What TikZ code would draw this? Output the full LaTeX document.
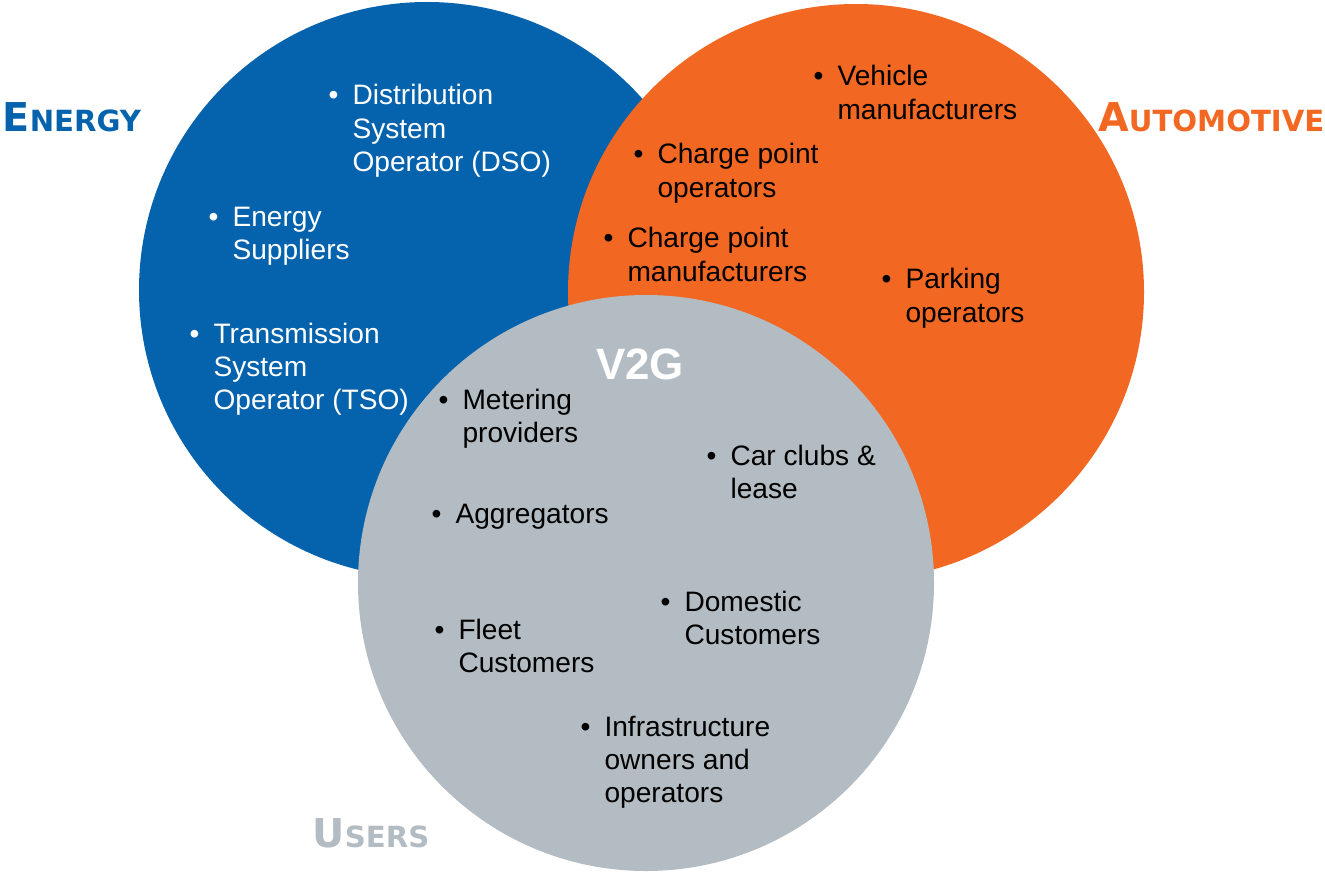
\documentclass[tikz,border=0pt]{standalone}
\usepackage{fontspec}
\setmainfont{Liberation Sans}
\newfontfamily\headfont{DejaVu Sans}
\usepackage{xcolor}
\usepackage{tikz}

\definecolor{energyblue}{RGB}{5,98,172}
\definecolor{autoorange}{RGB}{242,103,34}
\definecolor{usergray}{RGB}{179,188,194}

% bullet followed by a left aligned block of lines
\newcommand{\blist}[1]{\textbullet\hspace{0.14cm}\begin{tabular}[t]{@{}l@{}}#1\end{tabular}}
% heading with hand made small capitals
\newcommand{\capshead}[2]{{\fontsize{11.3}{12}\selectfont #1}{\fontsize{8.3}{9}\selectfont #2}}

\begin{document}
\begin{tikzpicture}[
		item/.style={anchor=base west, inner sep=0pt, font=\fontsize{8}{9.4}\selectfont},
		head/.style={inner sep=0pt, font=\headfont\bfseries}
	]
				\useasboundingbox (0, 0) rectangle (13.25, 8.71);
				
				%Circles
				\fill[energyblue] (4.27, 5.81) circle(2.88);
				\fill[autoorange] (8.56, 5.79) circle(2.88);
				\fill[usergray] (6.46, 2.88) circle(2.88);
				
				%Headings
				\node[head, anchor=base west, text=energyblue] (energy) at (0.02, 7.39) {\capshead{E}{NERGY}};
				\node[head, anchor=base east, text=autoorange] (automotive) at (13.25, 7.39) {\capshead{A}{UTOMOTIVE}};
				\node[head, anchor=base west, text=usergray] (users) at (3.12, 0.24) {\capshead{U}{SERS}};
				\node[anchor=base, inner sep=0pt, text=white, font=\fontsize{12.5}{14}\selectfont\bfseries] (v2g) at (6.40, 4.92) {V2G};
				
				%Energy
				\node[item, text=white] (dso) at (3.28, 7.66) {\blist{Distribution\\System\\Operator (DSO)}};
				\node[item, text=white] (suppliers) at (2.08, 6.45) {\blist{Energy\\Suppliers}};
				\node[item, text=white] (tso) at (1.89, 5.28) {\blist{Transmission\\System\\Operator (TSO)}};
				
				%Automotive
				\node[item] (vehicle) at (8.13, 7.85) {\blist{Vehicle\\manufacturers}};
				\node[item] (cpoperators) at (6.33, 7.07) {\blist{Charge point\\operators}};
				\node[item] (cpmakers) at (6.03, 6.23) {\blist{Charge point\\manufacturers}};
				\node[item] (parking) at (8.81, 5.82) {\blist{Parking\\operators}};
				
				%Users
				\node[item] (metering) at (4.38, 4.62) {\blist{Metering\\providers}};
				\node[item] (carclubs) at (7.06, 4.06) {\blist{Car clubs \&\\lease}};
				\node[item] (aggregators) at (4.31, 3.48) {\blist{Aggregators}};
				\node[item] (domestic) at (6.60, 2.60) {\blist{Domestic\\Customers}};
				\node[item] (fleet) at (4.34, 2.32) {\blist{Fleet\\Customers}};
				\node[item] (infra) at (5.80, 1.35) {\blist{Infrastructure\\owners and\\operators}};
			\end{tikzpicture}
\end{document}
